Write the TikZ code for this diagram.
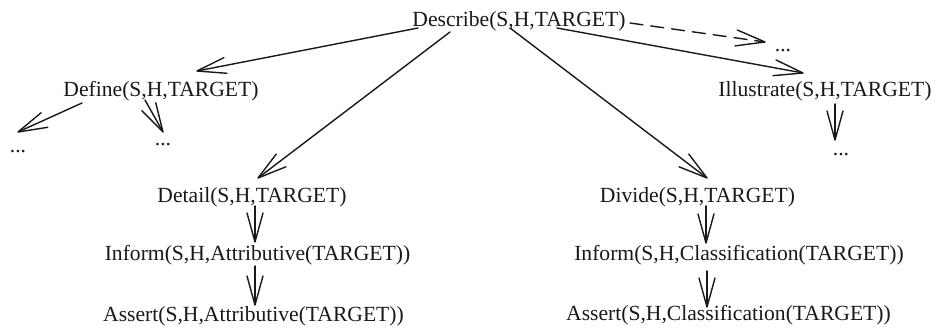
\documentclass[tikz,border=0pt]{standalone}
\usepackage{fontspec}
\setmainfont{Liberation Serif}
\usetikzlibrary{arrows.meta,calc}

% a plain open V tip made of two straight strokes
\pgfdeclarearrow{
  name = OpenVee,
  parameters = {\the\pgfarrowlength,\the\pgfarrowwidth},
  setup code = {
    \pgfarrowssettipend{0pt}
    \pgfarrowssetlineend{-0.6\pgflinewidth}
    \pgfarrowssetvisualbackend{-\pgfarrowlength}
    \pgfarrowssetbackend{-\pgfarrowlength}
    \pgfarrowshullpoint{0pt}{0pt}
    \pgfarrowshullpoint{-\pgfarrowlength}{.5\pgfarrowwidth}
    \pgfarrowshullpoint{-\pgfarrowlength}{-.5\pgfarrowwidth}
    \pgfarrowssavethe\pgfarrowlength
    \pgfarrowssavethe\pgfarrowwidth
  },
  drawing code = {
    \pgfsetdash{}{0pt}
    \pgfsetroundcap
    \pgfsetroundjoin
    \pgfpathmoveto{\pgfqpoint{-\pgfarrowlength}{.5\pgfarrowwidth}}
    \pgfpathlineto{\pgfpointorigin}
    \pgfpathlineto{\pgfqpoint{-\pgfarrowlength}{-.5\pgfarrowwidth}}
    \pgfusepathqstroke
  },
  defaults = {length = 30pt, width = 16pt}
}

\tikzset{
  term/.style={inner sep=0pt, anchor=base, font=\fontsize{21.6pt}{26pt}\selectfont, text=black!90},
  link/.style={line width=1.4pt, draw=black!90, line cap=round, line join=round,
    -{OpenVee[length=29pt,width=16pt]}},
  maybe/.style={link, dashed, dash pattern=on 13pt off 8pt},
}

\begin{document}
\begin{tikzpicture}[x=1pt,y=-1pt]
  \useasboundingbox[fill=white] (0,0) rectangle (938,329);

  % plan operators
  \node[term] (describe) at (519,27)   {Describe(S,H,TARGET)};
  \node[term] (define)   at (161,96)   {Define(S,H,TARGET)};
  \node[term] (illus)    at (825,97)   {Illustrate(S,H,TARGET)};
  \node[term] (detail)   at (252,202)  {Detail(S,H,TARGET)};
  \node[term] (divide)   at (697.5,202){Divide(S,H,TARGET)};
  \node[term] (infA)     at (257.5,260){Inform(S,H,Attributive(TARGET))};
  \node[term] (assA)     at (253.5,321){Assert(S,H,Attributive(TARGET))};
  \node[term] (infC)     at (739,260)  {Inform(S,H,Classification(TARGET))};
  \node[term] (assC)     at (728.5,320){Assert(S,H,Classification(TARGET))};

  % elided subtrees
  \node[term] (dotsA) at (18,152)  {...};
  \node[term] (dotsB) at (163,146) {...};
  \node[term] (dotsC) at (783,52)  {...};
  \node[term] (dotsD) at (841,155) {...};

  % decomposition links
  \draw[link] ($(describe.base)+(-101,1)$) -- ($(define.base)+(36,-25)$);
  \draw[link] ($(describe.base)+(-69,5)$)  -- ($(detail.base)+(6,-24)$);
  \draw[link] ($(describe.base)+(-9,1)$)   -- ($(divide.base)+(9.5,-24)$);
  \draw[link] ($(describe.base)+(38,1)$)   -- ($(illus.base)+(-22,-24)$);
  \draw[maybe] ($(describe.base)+(111,-4)$) -- ($(dotsC.base)+(-18,-10)$);

  \draw[link] ($(define.base)+(-79,7)$) -- ($(dotsA.base)+(0,-20)$);
  \draw[link] ($(define.base)+(-16,4)$) -- ($(dotsB.base)+(0,-14)$);
  \draw[link] ($(illus.base)+(10,7)$)   -- ($(dotsD.base)+(-6,-15)$);

  \draw[link] ($(detail.base)+(3,4)$)   -- ($(infA.base)+(-2.5,-18)$);
  \draw[link] ($(infA.base)+(-2.5,6)$)  -- ($(assA.base)+(1.5,-16)$);
  \draw[link] ($(divide.base)+(8.5,4)$) -- ($(infC.base)+(-33,-17)$);
  \draw[link] ($(infC.base)+(-32,11)$)  -- ($(assC.base)+(-21.5,-13)$);
\end{tikzpicture}
\end{document}
